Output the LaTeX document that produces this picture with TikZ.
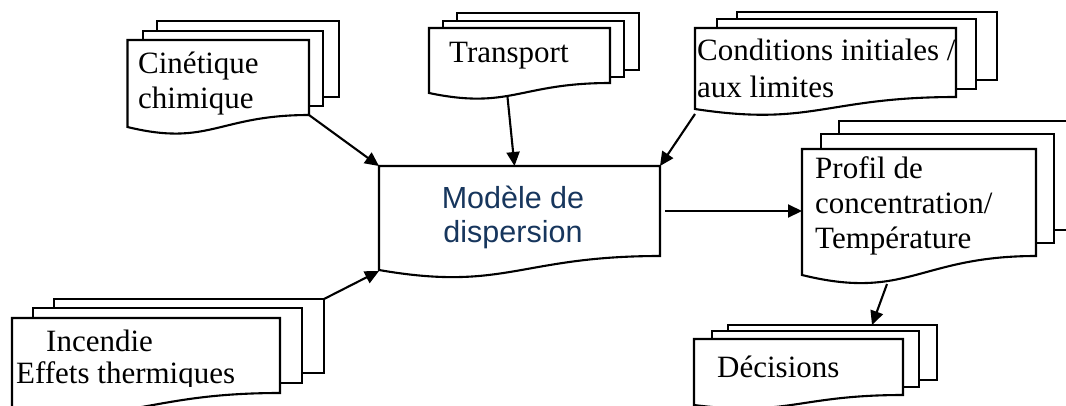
\documentclass[tikz,border=0pt]{standalone}
\usepackage{fontspec}
\setmainfont{Liberation Serif}
\newfontfamily\arialf{Liberation Sans}
\usetikzlibrary{arrows.meta,calc}
\definecolor{navy}{RGB}{23,54,93}
% front page with wavy bottom: x0,y0,x1,yBR,yBL,a
\newcommand\docfront[6]{%
  \draw[page] (#1,#2) -- (#3,#2) -- (#3,#4)
    .. controls ({(#1+#3)/2},#4) and ({#1+0.45*(#3-#1)},{#5+#6}) .. (#1,#5) -- cycle;}
\begin{document}
\begin{tikzpicture}[x=1pt,y=-1pt,
  page/.style={draw=black,fill=white,line width=2.1pt,line join=miter},
  frame/.style={draw=none,inner sep=0,outer sep=0,anchor=north west},
  txt/.style={inner sep=0,anchor=base west,font=\fontsize{31}{35}\selectfont},
  mtxt/.style={inner sep=0,anchor=base,text=navy,font=\arialf\fontsize{30.5}{35}\selectfont},
  link/.style={line width=2.1pt,-{Triangle[length=14pt,width=13pt]}}]
\clip (0,0) rectangle (1066,405);
\fill[white] (0,0) rectangle (1066,405);

% Cinetique chimique
\draw[page] (157,21) rectangle (339,97);
\draw[page] (143,31) rectangle (323,106);
\docfront{127.5}{40}{309}{115}{127}{20}
\node[frame,minimum width=181.5pt,minimum height=75pt] (cin) at (127.5,40) {};
\node[txt] (cinA) at (138,73) {Cinétique};
\node[txt] (cinB) at (138,108) {chimique};

% Transport
\draw[page] (457,13) rectangle (639,70);
\draw[page] (443,21) rectangle (624,77);
\docfront{429}{28}{610}{83}{93}{17}
\node[frame,minimum width=181pt,minimum height=55pt] (tr) at (429,28) {};
\node[txt] (trA) at (449,62) {Transport};

% Conditions
\draw[page] (737,12) rectangle (997,80);
\draw[page] (717,19) rectangle (976,89);
\docfront{695}{28}{956}{97}{109}{18}
\node[frame,minimum width=261pt,minimum height=69pt] (cond) at (695,28) {};
\node[txt] (condA) at (697,60) {Conditions initiales /};
\node[txt] (condB) at (697,97) {aux limites};

% Modele de dispersion
\docfront{379}{166}{660}{256}{270}{22}
\node[frame,minimum width=281pt,minimum height=90pt] (mod) at (379,166) {};
\node[mtxt] (modA) at (513,208) {Modèle de};
\node[mtxt] (modB) at (513,242) {dispersion};

% Profil
\draw[page] (839,121) rectangle (1090,230);
\draw[page] (821,134) rectangle (1054,243);
\docfront{802}{149}{1036}{256}{275}{26}
\node[frame,minimum width=234pt,minimum height=107pt] (pro) at (802,149) {};
\node[txt] (proA) at (815,178) {Profil de};
\node[txt] (proB) at (815,213) {concentration/};
\node[txt] (proC) at (815,248) {Température};

% Decisions
\draw[page] (728,325) rectangle (937,380);
\draw[page] (712,331) rectangle (919,387);
\docfront{694}{339}{903}{395}{405}{12}
\node[frame,minimum width=209pt,minimum height=56pt] (dec) at (694,339) {};
\node[txt] (decA) at (717,377) {Décisions};

% Incendie
\draw[page] (54,299) rectangle (324,373);
\draw[page] (33,308) rectangle (302,383);
\docfront{12}{318}{280}{393}{410}{15}
\node[frame,minimum width=268pt,minimum height=75pt] (inc) at (12,318) {};
\node[txt] (incA) at (46,351) {Incendie};
\begin{scope}
\clip (0,0) rectangle (1066,386);
\node[txt] (incB) at (16,383) {Effets thermiques};
\end{scope}

% connectors
\draw[link] (cin.south east) -- (mod.north west);
\draw[link] ($(tr.south)+(-12,14)$) -- ($(mod.north)+(-5,0)$);
\draw[link] ($(cond.south west)+(0,17)$) -- (mod.north east);
\draw[link] ($(inc.north east)+(44,-19)$) -- ($(mod.south west)+(0,15)$);
\draw[link,shorten <=5pt] (mod.east) -- (mod.east -| pro.west);
\draw[link] ($(pro.south)+(-32,28)$) -- ($(dec.north)+(73.5,-14)$);
\end{tikzpicture}
\end{document}
